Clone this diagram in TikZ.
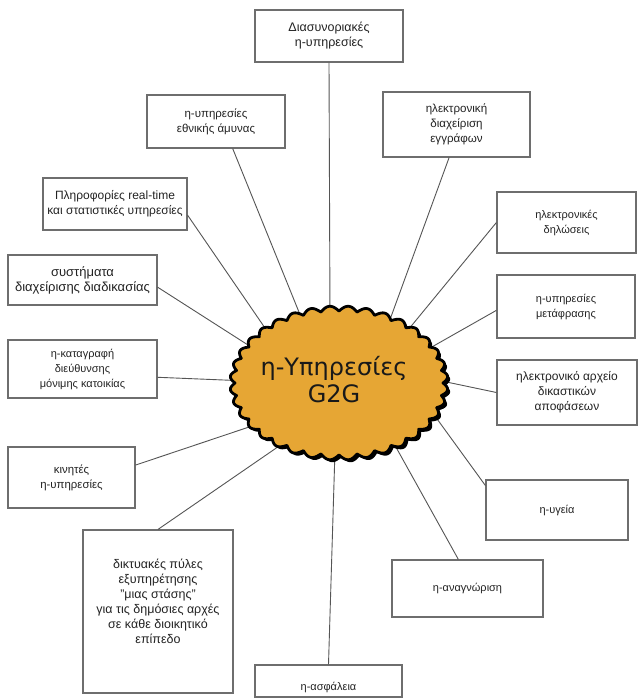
\documentclass[tikz,border=0pt]{standalone}
\usepackage{fontspec}
\setmainfont{Liberation Sans}
\newfontfamily\cloudfont{DejaVu Sans}
\usetikzlibrary{calc}
\definecolor{boxgray}{RGB}{110,110,110}
\definecolor{linegray}{RGB}{85,85,85}
\definecolor{textgray}{RGB}{35,35,35}
\definecolor{cloudfill}{RGB}{230,166,52}
\tikzset{
  box/.style={draw=boxgray, line width=1.2pt, fill=white, align=center, text=textgray,
    font=\fontsize{10.5}{15}\selectfont, inner sep=0pt},
  boxtext/.style={align=center, text=textgray, inner sep=0pt},
  fs/.style={font=\fontsize{#1}{15}\selectfont},
  conn/.style={draw=linegray, line width=0.9pt},
  cloudtext/.style={align=center, text=black!90, font=\cloudfont\fontsize{24}{27}\selectfont}
}
\begin{document}
\begin{tikzpicture}[x=1pt,y=-1pt]
\fill[white] (0,0) rectangle (639,698);
\useasboundingbox (0,0) rectangle (639,698);

% boxes
\node[box, fs=12.5, minimum width=148, minimum height=52] (b1) at (329,36) {Διασυνοριακές\\η-υπηρεσίες};
\node[box, fs=11.5, minimum width=138, minimum height=53] (b2) at (216,121.5) {η-υπηρεσίες\\εθνικής άμυνας};
\node[box, fs=11.6, minimum width=147, minimum height=65] (b3) at (456.5,124.5) {ηλεκτρονική\\διαχείριση\\εγγράφων};
\node[box, fs=12, minimum width=144, minimum height=52] (b4) at (115,204) {Πληροφορίες real-time\\και στατιστικές υπηρεσίες};
\node[box, fs=13, minimum width=149, minimum height=50] (b5) at (82.5,280) {συστήματα\\διαχείρισης διαδικασίας};
\node[box, fs=11, minimum width=149, minimum height=58] (b6) at (82.5,369) {η-καταγραφή\\διεύθυνσης\\μόνιμης κατοικίας};
\node[box, fs=11.4, minimum width=127, minimum height=61] (b7) at (71.5,477.5) {κινητές\\η-υπηρεσίες};
\node[box, minimum width=150, minimum height=163] (b8) at (158,611.5) {};
\node[boxtext, fs=12.5] (b8t) at (158,601) {δικτυακές πύλες\\εξυπηρέτησης\\"μιας στάσης"\\για τις δημόσιες αρχές\\σε κάθε διοικητικό\\επίπεδο};
\node[box, minimum width=147, minimum height=32] (b9) at (328.5,681) {};
\node[boxtext, fs=11] (b9t) at (328.5,687) {η-ασφάλεια};
\node[box, fs=11, minimum width=151, minimum height=57] (b10) at (467.5,588.5) {η-αναγνώριση};
\node[box, fs=11, minimum width=142, minimum height=60] (b11) at (557,510) {η-υγεία};
\node[box, fs=12, minimum width=140, minimum height=65] (b12) at (567,392.5) {ηλεκτρονικό αρχείο\\δικαστικών\\αποφάσεων};
\node[box, fs=11, minimum width=138, minimum height=63] (b13) at (566,306.5) {η-υπηρεσίες\\μετάφρασης};
\node[box, fs=11, minimum width=139, minimum height=61] (b14) at (566.5,222.5) {ηλεκτρονικές\\δηλώσεις};

% cloud anchor points
\coordinate (c1) at (330,320);
\coordinate (c2) at (303,322);
\coordinate (c3) at (388,325);
\coordinate (c4) at (265,328);
\coordinate (c5) at (248,345);
\coordinate (c6) at (248,381);
\coordinate (c7) at (258,424);
\coordinate (c8) at (285,442);
\coordinate (c9) at (335,450);
\coordinate (c10) at (392,440);
\coordinate (c11) at (432,412);
\coordinate (c12) at (437,380);
\coordinate (c13) at (430,348);
\coordinate (c14) at (408,330);

% connectors
\draw[conn] (b1.south) -- (c1);
\draw[conn] ($(b2.south west)!0.62!(b2.south east)$) -- (c2);
\draw[conn] ($(b3.south west)!0.45!(b3.south east)$) -- (c3);
\draw[conn] ($(b4.north east)!0.71!(b4.south east)$) -- (c4);
\draw[conn] ($(b5.north east)!0.64!(b5.south east)$) -- (c5);
\draw[conn] ($(b6.north east)!0.64!(b6.south east)$) -- (c6);
\draw[conn] ($(b7.north east)!0.3!(b7.south east)$) -- (c7);
\draw[conn] (b8.north) -- (c8);
\draw[conn] (b9.north) -- (c9);
\draw[conn] ($(b10.north west)!0.44!(b10.north east)$) -- (c10);
\draw[conn] ($(b11.north west)!0.1!(b11.south west)$) -- (c11);
\draw[conn] (b12.west) -- (c12);
\draw[conn] ($(b13.north west)!0.56!(b13.south west)$) -- (c13);
\draw[conn] (b14.west) -- (c14);

% cloud
\fill[black] plot[domain=0:360, samples=721, variable=\t]
  ({341.5+(104+5*abs(sin(18*\t)))*cos(\t)}, {385.5+(72+5*abs(sin(18*\t)))*sin(\t)}) -- cycle;
\filldraw[fill=cloudfill, draw=black, line width=2.8pt, line join=round] plot[domain=0:360, samples=721, variable=\t]
  ({339+(104+5*abs(sin(18*\t)))*cos(\t)}, {383+(72+5*abs(sin(18*\t)))*sin(\t)}) -- cycle;
\node[cloudtext] (ctext) at (334,380) {η-Υπηρεσίες\\G2G};
\end{tikzpicture}
\end{document}
